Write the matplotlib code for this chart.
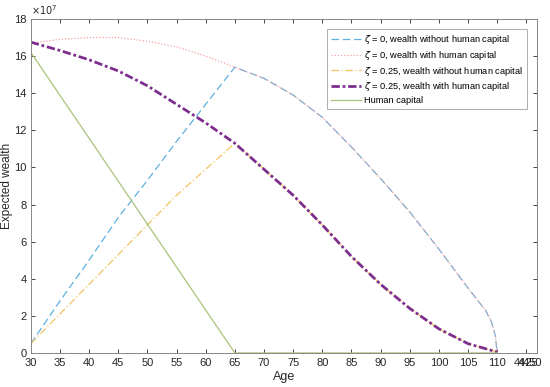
import matplotlib
matplotlib.use('Agg')
import matplotlib.pyplot as plt
import matplotlib.transforms as mtrans

plt.rcParams['font.family'] = ['Liberation Sans', 'DejaVu Sans']

# ---- データ (単位: 1e7) ----
age_pre = [30, 35, 40, 45, 50, 55, 60, 65]
age_post = [65, 70, 75, 80, 85, 90, 95, 100, 105, 108, 109, 109.7, 110]
age_post_p = [65, 70, 75, 80, 85, 90, 95, 100, 105, 110]

z0_wo_pre = [0.5, 2.8, 5.0, 7.3, 9.3, 11.4, 13.4, 15.4]
z0_w_pre = [16.7, 16.9, 17.0, 17.0, 16.8, 16.5, 16.0, 15.4]
z0_post = [15.4, 14.8, 13.9, 12.7, 11.1, 9.4, 7.6, 5.6, 3.5, 2.3, 1.7, 0.9, 0.0]

z25_wo_pre = [0.5, 2.1, 3.7, 5.3, 6.9, 8.5, 9.9, 11.3]
z25_w_pre = [16.75, 16.3, 15.8, 15.2, 14.4, 13.4, 12.4, 11.3]
z25_post = [11.3, 9.9, 8.5, 6.9, 5.2, 3.7, 2.4, 1.3, 0.5, 0.05]

hc_age = [30, 65, 110]
hc_val = [16.2, 0.0, 0.0]

labels = [
    r'$\zeta$ = 0, wealth without human capital',
    r'$\zeta$ = 0, wealth with human capital',
    r'$\zeta$ = 0.25, wealth without human capital',
    r'$\zeta$ = 0.25, wealth with human capital',
    'Human capital',
]

c_blue = '#5fb0e0'
c_pink = '#f4a3a3'
c_yel = '#f2c463'
c_pur = '#7E2F8E'
c_grn = '#a9c47a'
c_txt = '#262626'

fig = plt.figure(figsize=(5.5, 3.87), dpi=100)
ax = fig.add_axes([0.056, 0.088, 0.920, 0.863])

ax.plot(age_pre + age_post[1:], z0_wo_pre + z0_post[1:], color=c_blue,
        linewidth=0.9, linestyle=(0, (6, 3)), label=labels[0])
ax.plot(age_pre + age_post[1:], z0_w_pre + z0_post[1:], color=c_pink,
        linewidth=0.9, linestyle=(0, (1, 1.5)), label=labels[1])
ax.plot(age_pre + age_post_p[1:], z25_wo_pre + z25_post[1:], color=c_yel,
        linewidth=0.9, linestyle=(0, (6, 2, 1, 2)), label=labels[2])
ax.plot(age_pre + age_post_p[1:], z25_w_pre + z25_post[1:], color=c_pur,
        linewidth=2.0, linestyle=(0, (3, 1, 1, 1)), label=labels[3])
ax.plot(hc_age, hc_val, color=c_grn, linewidth=0.9, label=labels[4])

ax.set_xlim(30, 116.8)
ax.set_ylim(0, 18)
ax.set_xticks(list(range(30, 115, 5)) + [115])
ax.set_xticklabels([str(v) for v in range(30, 115, 5)] + ['4425'])
ax.set_yticks(range(0, 19, 2))
ax.tick_params(direction='in', top=True, right=True, length=3, pad=3,
               labelsize=8, colors=c_txt, width=0.6)
ax.tick_params(axis='x', pad=4)
for sp in ax.spines.values():
    sp.set_color('#888888')
    sp.set_linewidth(0.7)

# 重なった目盛ラベル (元図の崩れた "4450")
tr = mtrans.offset_copy(ax.get_xaxis_transform(), fig=fig, x=3, y=-4,
                        units='points')
ax.text(115, 0, '4450', transform=tr, fontsize=8, color=c_txt,
        ha='center', va='top')

ax.set_xlabel('Age', fontsize=9, color=c_txt, labelpad=2)
ax.set_ylabel('Expected wealth', fontsize=8.5, color=c_txt, labelpad=1)
ax.text(0.0, 1.005, r'$\times10^7$', transform=ax.transAxes,
        fontsize=7, color=c_txt, ha='left', va='bottom')

leg = ax.legend(loc='upper right', bbox_to_anchor=(0.99, 0.983),
                fontsize=6.7, frameon=True, fancybox=False,
                handlelength=3.2, handletextpad=0.4, borderpad=0.4,
                labelspacing=0.3, edgecolor='#888888')
leg.get_frame().set_linewidth(0.6)

plt.savefig('out.png', dpi=100)
